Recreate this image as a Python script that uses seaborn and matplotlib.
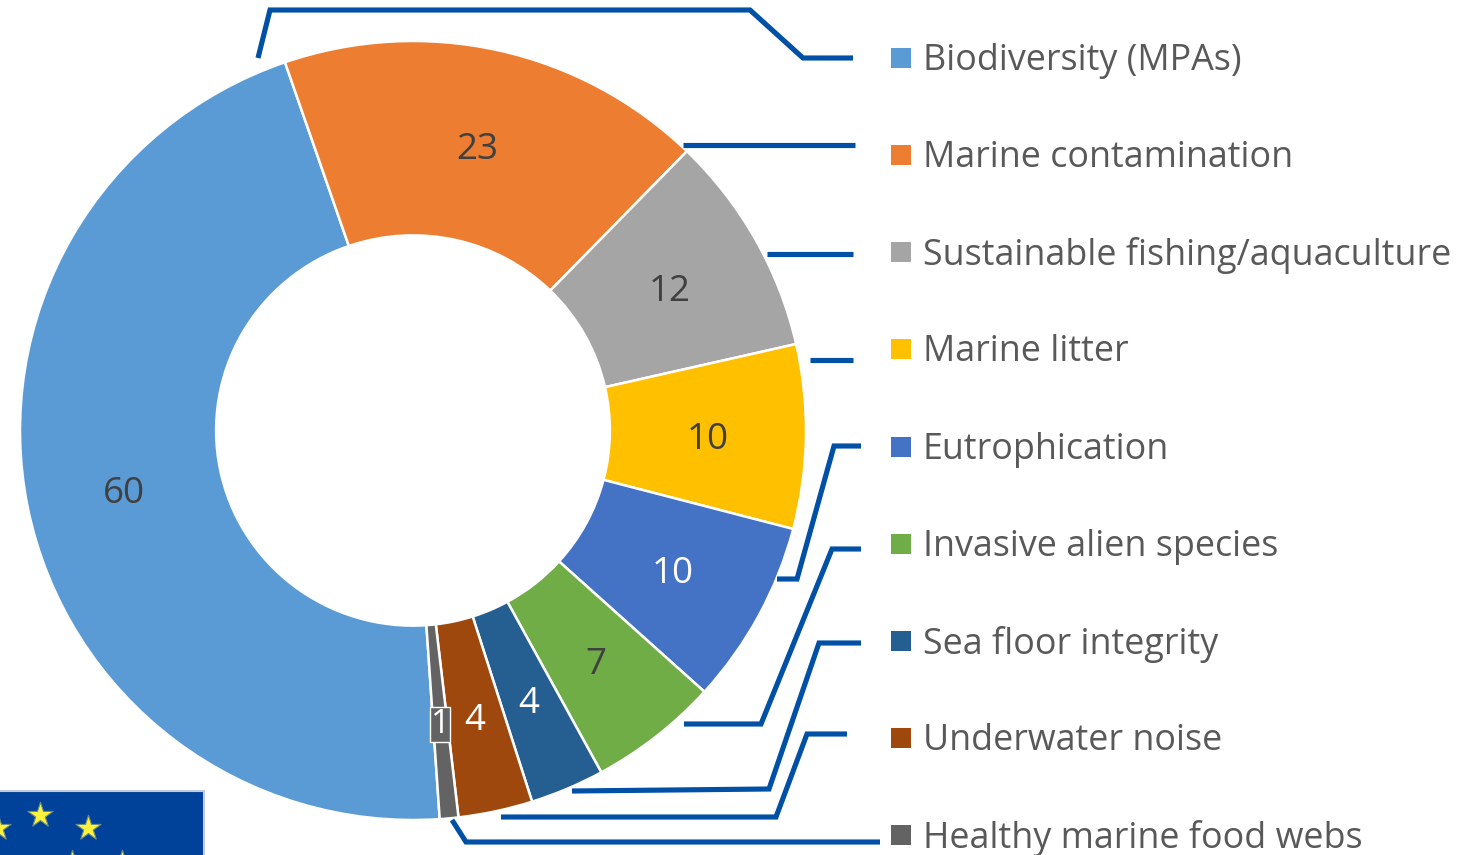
import numpy as np
import matplotlib
matplotlib.use("Agg")
import matplotlib.pyplot as plt
import seaborn as sns
from matplotlib.patches import Rectangle

sns.set_theme(style="white")
plt.rcParams['font.family'] = ['Open Sans', 'DejaVu Sans']

categories = ["Biodiversity (MPAs)", "Marine contamination", "Sustainable fishing/aquaculture",
              "Marine litter", "Eutrophication", "Invasive alien species",
              "Sea floor integrity", "Underwater noise", "Healthy marine food webs"]
values = [60, 23, 12, 10, 10, 7, 4, 4, 1]
colors = ["#5B9BD5", "#ED7D31", "#A5A5A5", "#FFC000", "#4472C4", "#70AD47", "#255E91", "#9E480E", "#636363"]
label_colors = ["#404040", "#404040", "#404040", "#404040", "white", "#404040", "white", "white", "white"]

# Layout (pixels of the 1468x855 canvas)
W, H = 1468, 855
leader_x = [[258, 270, 750, 803, 853], [683, 855], [767, 853], [810, 853],
            [777, 797, 834, 861], [684, 761, 832, 861], [572, 769, 819, 861],
            [501, 776, 807, 847], [452, 466, 880]]
leader_y = [[58, 10, 10, 58, 58], [145, 145], [254, 254], [360, 360],
            [579, 579, 446, 446], [724, 724, 549, 549], [791, 789, 643, 643],
            [817, 817, 734, 734], [820, 842, 842]]
legend_y = [58, 155, 252, 349, 447, 544, 641, 738, 835]
star_x = [-2, 40, 88, 72, 122]
star_y = [828, 815, 828, 863, 863]

fig = plt.figure(figsize=(W / 100, H / 100), dpi=100)

# Donut axes: spans the ring's bounding box (slightly wider than tall, as in the reference)
left, right, top, bottom = 20, 806, 41, 820
pie_ax = fig.add_axes([left / W, 1 - bottom / H, (right - left) / W, (bottom - top) / H])
ring_width = 0.499
wedges, _ = pie_ax.pie(values, colors=sns.color_palette(colors), startangle=90 - 176.1,
                       counterclock=False, radius=1, frame=False,
                       wedgeprops=dict(width=ring_width, edgecolor="white", linewidth=1.8))
pie_ax.set_xlim(-1, 1)
pie_ax.set_ylim(-1, 1)
pie_ax.set_aspect("auto")
pie_ax.axis("off")

ring_mid = 1 - ring_width / 2
for w, v, c in zip(wedges, values, label_colors):
    a = np.deg2rad((w.theta1 + w.theta2) / 2)
    kw = {}
    if v == 1:
        kw["bbox"] = dict(boxstyle="square,pad=0.02", fc=w.get_facecolor(), ec="white", lw=1)
    pie_ax.annotate(str(v), (ring_mid * np.cos(a), ring_mid * np.sin(a)), xytext=(0, -3.6 if v > 1 else -2),
                    textcoords="offset points", color=c, fontsize=26.5 if v > 1 else 24,
                    ha="center", va="center", **kw)

# Overlay in pixel coordinates
ax = fig.add_axes([0, 0, 1, 1])
ax.set_xlim(0, W)
ax.set_ylim(H, 0)
ax.axis("off")
ax.patch.set_alpha(0)

for xs, ys in zip(leader_x, leader_y):
    ax.plot(xs, ys, color="#0050A5", lw=3.7, solid_joinstyle="miter", solid_capstyle="butt")

for name, y, col in zip(categories, legend_y, colors):
    ax.add_patch(Rectangle((891, y - 10), 20, 20, fc=col, ec="none"))
    ax.text(923, y + 3, name, color="#595959", fontsize=25.85, ha="left", va="center")

# EU flag fragment in the lower-left corner
ax.add_patch(Rectangle((-5, 791), 209, 80, fc="#00429A", ec="#C0CCE0", lw=1.5, clip_on=True))
ax.scatter(star_x, star_y, marker="*", s=360, color="#FFF23A", edgecolors="#6F8F80", linewidths=0.8, zorder=5)
ax.set_xlim(0, W)
ax.set_ylim(H, 0)

fig.savefig("out.png", dpi=100)
